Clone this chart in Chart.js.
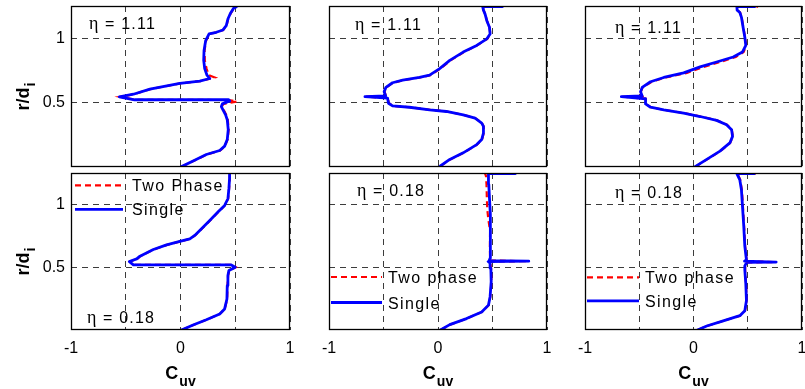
<!DOCTYPE html>
<html>
<head>
<meta charset="utf-8">
<script src="https://cdn.jsdelivr.net/npm/chart.js@4.4.1/dist/chart.umd.min.js"></script>
<style>
  html, body { margin: 0; padding: 0; background: #fff; }
  body { width: 805px; height: 389px; position: relative; overflow: hidden; }
  canvas { position: absolute; }
</style>
</head>
<body>
<script>
// ---- axis ticks and labels ----
const xTickValues = [-1, -0.5, 0, 0.5, 1];
const xTickLabels = ['-1', '', '0', '', '1'];
const yTickValues = [0.5, 1];
const yTickLabels = ['0.5', '1'];
const xTitle = ['C', 'uv'];
const yTitle = ['r/d', 'i'];
const etaLabels = ['\u03b7 = 1.11', '\u03b7 = 0.18'];
const legendLabelsA = ['Two Phase', 'Single'];
const legendLabelsB = ['Two phase', 'Single'];

// ---- profiles: r/d_i (r_*) and C_uv (cuv_*) ----
// eta = 1.11, case 1
const r_a_single   = [0.003,0.046,0.097,0.128,0.162,0.213,0.290,0.367,0.405,0.444,0.469,0.490,0.513,0.522,0.522,0.545,0.565,0.605,0.649,0.667,0.687,0.713,0.764,0.828,0.905,0.982,1.033,1.046,1.064,1.097,1.149,1.192,1.233,1.244];
const cuv_a_single = [0.010,0.115,0.236,0.358,0.403,0.427,0.436,0.427,0.412,0.388,0.373,0.382,0.450,0.440,-0.420,-0.558,-0.430,-0.279,-0.006,0.176,0.267,0.242,0.221,0.212,0.215,0.230,0.261,0.327,0.388,0.418,0.433,0.455,0.485,0.510];
const r_a_two      = [0.003,0.046,0.097,0.128,0.162,0.213,0.290,0.367,0.405,0.444,0.469,0.490,0.508,0.520,0.522,0.545,0.565,0.605,0.649,0.667,0.695,0.713,0.764,0.828,0.905,0.982,1.033,1.046,1.064,1.097,1.149,1.192,1.233,1.244];
const cuv_a_two    = [0.012,0.118,0.240,0.362,0.406,0.430,0.440,0.432,0.418,0.394,0.378,0.392,0.515,0.445,-0.410,-0.550,-0.425,-0.275,-0.002,0.182,0.312,0.258,0.238,0.222,0.220,0.234,0.265,0.330,0.390,0.420,0.436,0.458,0.488,0.512];

// eta = 1.11, case 2
const r_b_single   = [0.008,0.059,0.110,0.174,0.213,0.264,0.315,0.341,0.379,0.405,0.431,0.444,0.464,0.474,0.495,0.535,0.546,0.552,0.585,0.618,0.654,0.674,0.695,0.713,0.764,0.828,0.892,0.944,0.995,1.033,1.085,1.136,1.187,1.218,1.245,1.245];
const cuv_b_single = [0.022,0.108,0.231,0.355,0.401,0.417,0.417,0.401,0.340,0.231,0.077,-0.077,-0.262,-0.417,-0.454,-0.463,-0.670,-0.480,-0.494,-0.478,-0.417,-0.324,-0.170,-0.077,0.015,0.108,0.231,0.355,0.448,0.478,0.472,0.448,0.432,0.417,0.410,0.590];
const r_b_two      = [0.008,0.059,0.110,0.174,0.213,0.264,0.315,0.341,0.379,0.405,0.431,0.444,0.464,0.474,0.495,0.535,0.546,0.552,0.585,0.618,0.654,0.674,0.695,0.713,0.764,0.828,0.892,0.944,0.995,1.033,1.085,1.136,1.187,1.218,1.245,1.245];
const cuv_b_two    = [0.025,0.112,0.235,0.358,0.404,0.420,0.419,0.403,0.343,0.235,0.080,-0.073,-0.258,-0.412,-0.450,-0.460,-0.660,-0.478,-0.490,-0.474,-0.412,-0.318,-0.163,-0.070,0.022,0.115,0.238,0.360,0.452,0.480,0.473,0.449,0.433,0.418,0.410,0.590];

// eta = 1.11, case 3
const r_c_single   = [0.003,0.059,0.123,0.187,0.238,0.290,0.328,0.362,0.392,0.418,0.444,0.464,0.490,0.530,0.546,0.552,0.585,0.618,0.662,0.695,0.731,0.777,0.815,0.854,0.892,0.944,1.008,1.085,1.162,1.200,1.218,1.245,1.245];
const cuv_c_single = [0.015,0.122,0.244,0.335,0.360,0.351,0.305,0.213,0.061,-0.091,-0.274,-0.396,-0.442,-0.442,-0.665,-0.473,-0.488,-0.473,-0.396,-0.274,-0.091,0.061,0.213,0.366,0.451,0.482,0.473,0.457,0.442,0.427,0.402,0.400,0.564];
const r_c_two      = [0.003,0.059,0.123,0.187,0.238,0.290,0.328,0.362,0.392,0.418,0.444,0.464,0.490,0.530,0.546,0.552,0.585,0.618,0.662,0.695,0.731,0.777,0.815,0.854,0.892,0.944,1.008,1.085,1.162,1.200,1.218,1.245,1.245];
const cuv_c_two    = [0.018,0.126,0.248,0.338,0.362,0.353,0.308,0.217,0.066,-0.086,-0.270,-0.392,-0.440,-0.440,-0.655,-0.470,-0.485,-0.468,-0.385,-0.255,-0.060,0.095,0.245,0.390,0.462,0.486,0.475,0.459,0.444,0.429,0.405,0.400,0.595];

// eta = 0.18, case 1
const r_d_single   = [0.000,0.040,0.082,0.128,0.168,0.247,0.354,0.434,0.473,0.500,0.519,0.519,0.545,0.566,0.588,0.641,0.678,0.705,0.726,0.753,0.793,0.872,0.939,0.992,1.045,1.125,1.205,1.245];
const cuv_d_single = [0.009,0.115,0.236,0.358,0.403,0.424,0.427,0.433,0.442,0.500,0.460,-0.430,-0.467,-0.400,-0.370,-0.248,-0.127,-0.006,0.085,0.130,0.176,0.267,0.342,0.403,0.433,0.442,0.448,0.448];
const r_d_two      = [0.000,0.040,0.082,0.128,0.168,0.247,0.354,0.434,0.473,0.500,0.519,0.519,0.545,0.566,0.588,0.641,0.678,0.705,0.726,0.753,0.793,0.872,0.939,0.992,1.045,1.125,1.205,1.245];
const cuv_d_two    = [0.012,0.118,0.239,0.360,0.405,0.426,0.429,0.435,0.445,0.505,0.462,-0.425,-0.462,-0.396,-0.366,-0.244,-0.123,-0.002,0.088,0.133,0.180,0.270,0.345,0.405,0.435,0.444,0.450,0.450];

// eta = 0.18, case 2
const r_e_single   = [0.000,0.043,0.091,0.144,0.198,0.265,0.385,0.492,0.532,0.545,0.548,0.553,0.572,0.652,0.786,0.920,1.053,1.160,1.227,1.246,1.246];
const cuv_e_single = [0.022,0.108,0.262,0.401,0.463,0.478,0.488,0.485,0.478,0.460,0.833,0.470,0.478,0.478,0.485,0.478,0.472,0.466,0.463,0.463,0.710];
const r_e_two      = [0.000,0.043,0.091,0.144,0.198,0.265,0.385,0.492,0.532,0.545,0.548,0.553,0.572,0.652,0.786,0.880,0.960,1.053,1.160,1.227,1.246];
const cuv_e_two    = [0.025,0.112,0.265,0.404,0.465,0.480,0.490,0.487,0.480,0.462,0.820,0.472,0.478,0.476,0.478,0.462,0.452,0.448,0.445,0.440,0.432];

// eta = 0.18, case 3
const r_f_single   = [0.000,0.032,0.073,0.114,0.154,0.235,0.370,0.478,0.511,0.538,0.541,0.548,0.559,0.600,0.668,0.830,0.992,1.114,1.195,1.235,1.245,1.245];
const cuv_f_single = [0.037,0.122,0.274,0.427,0.473,0.488,0.482,0.473,0.473,0.490,0.762,0.470,0.488,0.482,0.473,0.463,0.451,0.442,0.427,0.405,0.400,0.560];
const r_f_two      = [0.000,0.032,0.073,0.114,0.154,0.235,0.370,0.478,0.511,0.538,0.541,0.548,0.559,0.600,0.668,0.830,0.992,1.114,1.195,1.235,1.245,1.245];
const cuv_f_two    = [0.040,0.125,0.278,0.430,0.475,0.490,0.484,0.476,0.476,0.492,0.750,0.474,0.490,0.484,0.476,0.466,0.455,0.446,0.431,0.410,0.405,0.595];

// ---- layout of the 2 x 3 grid of axes (page pixels) ----
const FONT = "'Liberation Sans', Arial, Helvetica, sans-serif";
const SERIF = "'Liberation Serif', 'Times New Roman', serif";
const COLS = [{ l: 71, r: 290 }, { l: 329, r: 547 }, { l: 585, r: 802 }];
const ROWS = [{ t: 6, b: 167 }, { t: 173, b: 330 }];
const GRID_COLOR = '#3c3c3c';

Chart.defaults.font.family = FONT;
Chart.defaults.color = '#000';

const toPoints = (r, c) => r.map((y, i) => ({ x: c[i], y }));

// keep tick labels from pushing the plot box inwards
function noLabelPadding(s) {
  s.paddingTop = 0; s.paddingBottom = 0; s.paddingLeft = 0; s.paddingRight = 0;
}

// box, annotation, legend and axis titles of each axes
const panelDecor = {
  id: 'panelDecor',
  afterDraw(chart, args, o) {
    const { ctx, chartArea: a } = chart;
    ctx.save();
    ctx.fillStyle = '#000';
    ctx.textAlign = 'left';
    ctx.textBaseline = 'alphabetic';

    // legend
    if (o.legend) {
      const L = o.legend;
      const sets = [chart.data.datasets[1], chart.data.datasets[0]];
      sets.forEach((ds, i) => {
        const y = a.top + L.y0 + i * L.dy;
        ctx.save();
        ctx.strokeStyle = ds.borderColor;
        ctx.lineWidth = ds.borderWidth;
        ctx.setLineDash(ds.borderDash || []);
        ctx.beginPath();
        ctx.moveTo(a.left + L.x0, y);
        ctx.lineTo(a.left + L.x1, y);
        ctx.stroke();
        ctx.restore();
        ctx.font = `16px ${FONT}`;
        ctx.letterSpacing = '1.4px';
        ctx.fillText(ds.label, a.left + L.tx, y + 6);
        ctx.letterSpacing = '0px';
      });
    }

    // eta annotation
    if (o.eta) {
      const x = a.left + o.etaX, y = a.top + o.etaY;
      const head = o.eta.slice(0, 1), rest = o.eta.slice(1);
      ctx.font = `18px ${SERIF}`;
      ctx.fillText(head, x, y);
      const w = ctx.measureText(head).width;
      ctx.font = `16px ${FONT}`;
      ctx.letterSpacing = '1.2px';
      ctx.fillText(rest, x + w + 1, y);
      ctx.letterSpacing = '0px';
    }

    // x axis title with subscript
    if (o.xTitle) {
      const cx = (a.left + a.right) / 2, by = a.bottom + 49;
      ctx.font = `bold 18px ${FONT}`;
      const w1 = ctx.measureText(xTitle[0]).width;
      ctx.font = `bold 14px ${FONT}`;
      const w2 = ctx.measureText(xTitle[1]).width;
      const x0 = cx - (w1 + 1 + w2) / 2;
      ctx.font = `bold 18px ${FONT}`;
      ctx.fillText(xTitle[0], x0, by);
      ctx.font = `bold 14px ${FONT}`;
      ctx.fillText(xTitle[1], x0 + w1 + 1, by + 7);
    }

    // y axis title with subscript, rotated
    if (o.yTitle) {
      ctx.save();
      ctx.translate(29, (a.top + a.bottom) / 2 + 24);
      ctx.rotate(-Math.PI / 2);
      ctx.font = `bold 18px ${FONT}`;
      ctx.fillText(yTitle[0], 0, 0);
      const w = ctx.measureText(yTitle[0]).width;
      ctx.font = `bold 14px ${FONT}`;
      ctx.fillText(yTitle[1], w + 1, 6);
      ctx.restore();
    }

    // axes box
    ctx.strokeStyle = '#000';
    ctx.lineWidth = 1.3;
    ctx.setLineDash([]);
    ctx.strokeRect(a.left + 0.5, a.top + 0.5, a.width - 1, a.height - 1);
    ctx.restore();
  }
};

function panel(col, row, single, two, deco) {
  const c = COLS[col], rw = ROWS[row];
  const yW = col === 0 ? 71 : 14;
  const xH = row === 1 ? 59 : 3;
  const padT = 4, padR = 14;
  const W = yW + (c.r - c.l) + padR;
  const H = padT + (rw.b - rw.t) + xH;
  const cv = document.createElement('canvas');
  cv.width = W; cv.height = H;
  cv.style.width = W + 'px'; cv.style.height = H + 'px';
  cv.style.left = (c.l - yW) + 'px';
  cv.style.top = (rw.t - padT) + 'px';
  document.body.appendChild(cv);

  new Chart(cv, {
    type: 'scatter',
    data: {
      datasets: [
        {
          label: single.label, data: toPoints(single.r, single.c),
          borderColor: '#0000ff', backgroundColor: '#0000ff', borderWidth: 2.8,
          showLine: true, pointRadius: 0, borderJoinStyle: 'round', borderCapStyle: 'round', order: 0
        },
        {
          label: two.label, data: toPoints(two.r, two.c),
          borderColor: '#ff0000', backgroundColor: '#ff0000', borderWidth: 2.2,
          borderDash: [6, 4], showLine: true, pointRadius: 0, order: 1
        }
      ]
    },
    options: {
      responsive: false, animation: false, devicePixelRatio: 1,
      layout: { padding: { top: padT, right: padR, left: 0, bottom: 0 } },
      plugins: { legend: { display: false }, tooltip: { enabled: false }, panelDecor: deco },
      scales: {
        x: {
          type: 'linear', position: 'bottom', min: -1, max: 1,
          afterBuildTicks: s => { s.ticks = xTickValues.map(v => ({ value: v })); },
          afterFit: s => { s.height = xH; noLabelPadding(s); },
          ticks: {
            display: row === 1, color: '#000', font: { size: 16 }, padding: 9,
            maxRotation: 0, autoSkip: false, callback: (v, i) => xTickLabels[i]
          },
          grid: { color: GRID_COLOR, lineWidth: 1, drawTicks: false },
          border: { display: false, dash: [6, 5] }
        },
        y: {
          type: 'linear', position: 'left', min: 0, max: 1.25,
          afterBuildTicks: s => { s.ticks = yTickValues.map(v => ({ value: v })); },
          afterFit: s => { s.width = yW; noLabelPadding(s); },
          ticks: {
            display: col === 0, color: '#000', font: { size: 16 }, padding: 6,
            autoSkip: false, callback: (v, i) => yTickLabels[i]
          },
          grid: { color: GRID_COLOR, lineWidth: 1, drawTicks: false },
          border: { display: false, dash: [6, 5] }
        }
      }
    },
    plugins: [panelDecor]
  });
}

// top row: eta = 1.11
panel(0, 0, { label: 'Single', r: r_a_single, c: cuv_a_single }, { label: 'Two phase', r: r_a_two, c: cuv_a_two },
  { eta: etaLabels[0], etaX: 18, etaY: 22.5, yTitle: true });
panel(1, 0, { label: 'Single', r: r_b_single, c: cuv_b_single }, { label: 'Two phase', r: r_b_two, c: cuv_b_two },
  { eta: etaLabels[0], etaX: 26, etaY: 24 });
panel(2, 0, { label: 'Single', r: r_c_single, c: cuv_c_single }, { label: 'Two phase', r: r_c_two, c: cuv_c_two },
  { eta: etaLabels[0], etaX: 30, etaY: 26.5 });

// bottom row: eta = 0.18
panel(0, 1, { label: legendLabelsA[1], r: r_d_single, c: cuv_d_single }, { label: legendLabelsA[0], r: r_d_two, c: cuv_d_two },
  { eta: etaLabels[1], etaX: 16, etaY: 150, yTitle: true, xTitle: true,
    legend: { x0: 4, x1: 52, tx: 61, y0: 12.3, dy: 24 } });
panel(1, 1, { label: legendLabelsB[1], r: r_e_single, c: cuv_e_single }, { label: legendLabelsB[0], r: r_e_two, c: cuv_e_two },
  { eta: etaLabels[1], etaX: 28, etaY: 22.5, xTitle: true,
    legend: { x0: 2, x1: 53, tx: 59, y0: 104, dy: 25.5 } });
panel(2, 1, { label: legendLabelsB[1], r: r_f_single, c: cuv_f_single }, { label: legendLabelsB[0], r: r_f_two, c: cuv_f_two },
  { eta: etaLabels[1], etaX: 30, etaY: 24.5, xTitle: true,
    legend: { x0: 2, x1: 54, tx: 60, y0: 104.3, dy: 23.5 } });
</script>
</body>
</html>
